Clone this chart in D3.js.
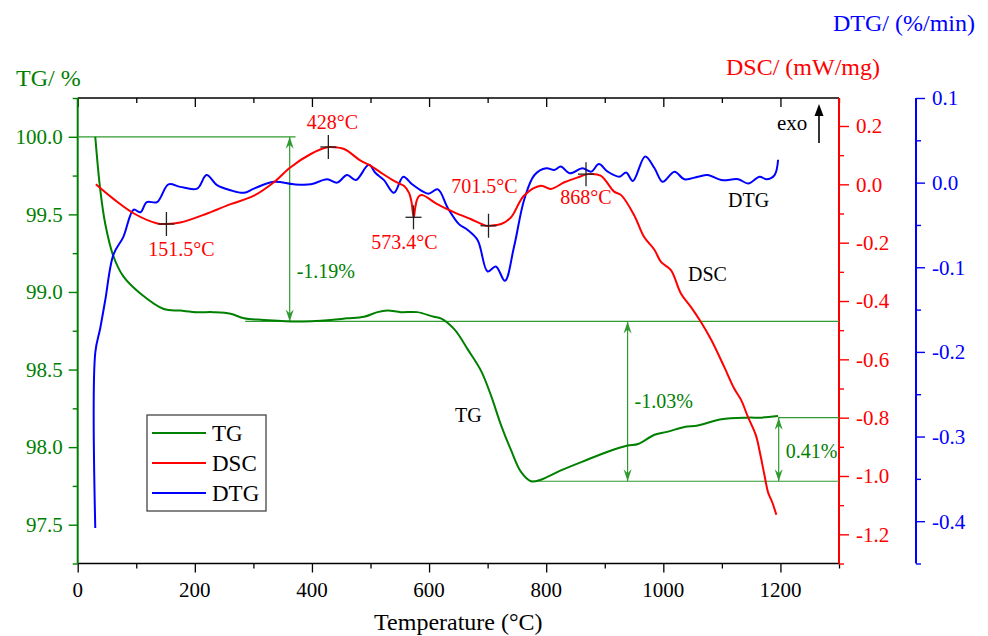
<!DOCTYPE html>
<html>
<head>
<meta charset="utf-8">
<script src="https://cdn.jsdelivr.net/npm/d3@7"></script>
<style>
  html, body { margin: 0; padding: 0; background: #fff; }
</style>
</head>
<body>
<svg id="chart" width="988" height="636"></svg>
<script>
// ---- Thermal analysis data (temperature in °C) ----
const tgTemp  = [30, 38.5, 47, 61, 78, 107, 147, 175, 204, 232, 261, 284, 318, 375, 432, 460, 489, 512, 529, 552, 580, 608, 620, 643, 666, 689, 706, 723, 740, 757, 774, 791, 825, 871, 905, 939, 957, 985, 1008, 1036, 1059, 1099, 1145, 1167, 1196];
const tgValue = [100.00, 99.66, 99.44, 99.23, 99.10, 98.99, 98.89, 98.88, 98.87, 98.87, 98.86, 98.83, 98.82, 98.81, 98.82, 98.83, 98.84, 98.87, 98.88, 98.87, 98.87, 98.84, 98.83, 98.76, 98.63, 98.49, 98.33, 98.14, 97.98, 97.84, 97.78, 97.79, 97.85, 97.92, 97.97, 98.01, 98.02, 98.08, 98.10, 98.13, 98.14, 98.18, 98.19, 98.19, 98.20];

const dscTemp  = [31, 61, 96, 136, 152, 175, 221, 261, 301, 335, 363, 398, 426, 431, 455, 483, 500, 517, 535, 552, 557, 566, 570, 572.5, 574, 576, 579, 583, 589, 614, 643, 671, 697, 702, 723, 740, 762, 791, 808, 831, 854, 872, 893, 916, 928, 950, 967, 985, 996, 1013, 1030, 1047, 1064, 1082, 1104, 1121, 1133, 1144, 1158, 1166, 1173, 1179, 1186, 1193];
const dscValue = [0.00, -0.05, -0.10, -0.134, -0.136, -0.131, -0.10, -0.068, -0.039, 0.007, 0.058, 0.104, 0.127, 0.128, 0.121, 0.081, 0.064, 0.041, 0.018, 0.000, -0.005, -0.030, -0.060, -0.100, -0.113, -0.085, -0.055, -0.040, -0.037, -0.068, -0.096, -0.119, -0.142, -0.142, -0.136, -0.113, -0.039, -0.005, -0.016, 0.007, 0.024, 0.035, 0.030, -0.025, -0.037, -0.105, -0.180, -0.225, -0.266, -0.294, -0.374, -0.420, -0.471, -0.534, -0.626, -0.70, -0.74, -0.795, -0.86, -0.93, -1.00, -1.057, -1.09, -1.133];

const dtgTemp  = [30, 30, 38.5, 47, 61, 78, 95.5, 107, 118, 135.5, 155, 175, 204, 220, 238, 261, 284, 301, 335, 369, 398, 426, 443, 460, 475, 497, 509, 523, 540, 556, 571, 586, 599, 615, 632, 651, 666, 683, 700, 714, 729.5, 745, 762.5, 780, 800, 814, 825, 840, 862, 877, 890, 905, 925, 936.5, 948, 969, 985, 999, 1019, 1036, 1059, 1076, 1099, 1128, 1145, 1164.5, 1176, 1190, 1196];
const dtgValue = [-0.408, -0.201, -0.172, -0.139, -0.085, -0.064, -0.032, -0.035, -0.023, -0.023, -0.002, -0.005, -0.007, 0.009, -0.003, -0.009, -0.012, -0.007, 0.001, -0.002, -0.002, 0.004, 0.000, 0.009, 0.003, 0.021, 0.011, 0.003, -0.012, 0.007, -0.002, -0.009, -0.013, -0.008, -0.030, -0.049, -0.056, -0.068, -0.105, -0.099, -0.116, -0.076, -0.020, 0.009, 0.017, 0.015, 0.019, 0.011, 0.017, 0.013, 0.022, 0.013, 0.007, 0.012, 0.002, 0.031, 0.017, 0.001, 0.013, 0.004, 0.007, 0.009, 0.003, 0.004, -0.001, 0.007, 0.004, 0.009, 0.027];

// DSC peak temperatures and their heat flow
const peakTemp = [151.5, 428, 573.4, 701.5, 868];
const peakDSC  = [-0.136, 0.128, -0.113, -0.142, 0.035];

// Mass-change steps of the TG curve (starting from 100 %)
const tgStart = 100.00;
const tgSteps = [-1.19, -1.03, 0.41];

// Axis ticks
const tempTicks = [0, 200, 400, 600, 800, 1000, 1200];
const tgTicks   = [97.5, 98.0, 98.5, 99.0, 99.5, 100.0];
const dscTicks  = [-1.2, -1.0, -0.8, -0.6, -0.4, -0.2, 0.0, 0.2];
const dtgTicks  = [-0.4, -0.3, -0.2, -0.1, 0.0, 0.1];

// ---- Layout ----
const FONT = "'Liberation Serif', 'Times New Roman', Times, serif";
const GREEN = "#008000", RED = "#ff0000", BLUE = "#0000ff", GUIDE = "#2f9a2f";
const L = 77.7, R = 839, T = 98, B = 563.5, BLUE_X = 916;

const svg = d3.select("#chart");
const x    = d3.scaleLinear([0, 1300], [L, R]);
const yTG  = d3.scaleLinear([97.25, 100.25], [B, T]);
const yDSC = d3.scaleLinear([-1.3, 0.296], [B, T]);
const yDTG = d3.scaleLinear([-0.45, 0.1], [B, T]);

const tickFont = "21px";

// bottom axis
const gx = svg.append("g").attr("transform", `translate(0,${B})`);
gx.call(d3.axisBottom(x).tickValues(d3.range(0, 1301, 100)).tickSize(5).tickFormat(""));
gx.call(g => g.selectAll(".tick").filter(d => d % 200 === 0).select("line").attr("y2", 9));
gx.select(".domain").remove();
gx.append("line").attr("x1", L).attr("x2", R).attr("stroke", "#000").attr("stroke-width", 1.6);
gx.selectAll(".tick line").attr("stroke", "#000").attr("stroke-width", 1.3);
gx.selectAll(".lbl").data(tempTicks).join("text")
  .attr("x", d => x(d)).attr("y", 33).attr("text-anchor", "middle")
  .attr("font-size", tickFont).attr("fill", "#000").text(d => d);

// top border with inward ticks
const gt = svg.append("g").attr("transform", `translate(0,${T})`);
gt.call(d3.axisBottom(x).tickValues(d3.range(0, 1301, 100)).tickSize(5).tickFormat(""));
gt.call(g => g.selectAll(".tick").filter(d => d % 200 === 0).select("line").attr("y2", 9));
gt.select(".domain").remove();
gt.append("line").attr("x1", L).attr("x2", R).attr("stroke", "#000").attr("stroke-width", 1.6);
gt.selectAll(".tick line").attr("stroke", "#000").attr("stroke-width", 1.3);

// left TG axis
const gl = svg.append("g").attr("transform", `translate(${L},0)`);
gl.call(d3.axisLeft(yTG).tickValues(d3.range(97.25, 100.26, 0.25)).tickSize(5).tickFormat(""));
gl.call(g => g.selectAll(".tick").filter(d => Math.abs(d * 2 - Math.round(d * 2)) < 1e-6).select("line").attr("x2", -9));
gl.select(".domain").remove();
gl.append("line").attr("y1", T).attr("y2", B).attr("stroke", GREEN).attr("stroke-width", 2);
gl.selectAll(".tick line").attr("stroke", GREEN).attr("stroke-width", 1.4);
gl.selectAll(".lbl").data(tgTicks).join("text")
  .attr("x", -15).attr("y", d => yTG(d)).attr("dy", "0.35em").attr("text-anchor", "end")
  .attr("font-size", tickFont).attr("fill", GREEN).text(d => d.toFixed(1));

// right DSC axis
const gr = svg.append("g").attr("transform", `translate(${R},0)`);
gr.call(d3.axisRight(yDSC).tickValues(d3.range(-1.3, 0.25, 0.1)).tickSize(5).tickFormat(""));
gr.call(g => g.selectAll(".tick").filter(d => Math.abs(d * 5 - Math.round(d * 5)) < 1e-6).select("line").attr("x2", 10));
gr.select(".domain").remove();
gr.append("line").attr("y1", T).attr("y2", B).attr("stroke", RED).attr("stroke-width", 2);
gr.selectAll(".tick line").attr("stroke", RED).attr("stroke-width", 1.4);
gr.selectAll(".lbl").data(dscTicks).join("text")
  .attr("x", 17).attr("y", d => yDSC(d)).attr("dy", "0.35em").attr("text-anchor", "start")
  .attr("font-size", tickFont).attr("fill", RED).text(d => d.toFixed(1));

// second right DTG axis
const gb = svg.append("g").attr("transform", `translate(${BLUE_X},0)`);
gb.call(d3.axisRight(yDTG).tickValues(d3.range(-0.45, 0.101, 0.05)).tickSize(5).tickFormat(""));
gb.call(g => g.selectAll(".tick").filter(d => Math.abs(d * 10 - Math.round(d * 10)) < 1e-6).select("line").attr("x2", 9));
gb.select(".domain").remove();
gb.append("line").attr("y1", T).attr("y2", B).attr("stroke", BLUE).attr("stroke-width", 2);
gb.selectAll(".tick line").attr("stroke", BLUE).attr("stroke-width", 1.4);
gb.selectAll(".lbl").data(dtgTicks).join("text")
  .attr("x", 16).attr("y", d => yDTG(d)).attr("dy", "0.35em").attr("text-anchor", "start")
  .attr("font-size", tickFont).attr("fill", BLUE).text(d => d.toFixed(1));

// axis titles
svg.append("text").attr("x", 16).attr("y", 86).attr("font-size", "24px").attr("fill", GREEN).text("TG/ %");
svg.append("text").attr("x", 880).attr("y", 75).attr("text-anchor", "end").attr("font-size", "24px").attr("fill", RED).text("DSC/ (mW/mg)");
svg.append("text").attr("x", 975).attr("y", 31).attr("text-anchor", "end").attr("font-size", "24px").attr("fill", BLUE).text("DTG/ (%/min)");
svg.append("text").attr("x", (L + R) / 2).attr("y", 630).attr("text-anchor", "middle").attr("font-size", "24px").attr("fill", "#000").text("Temperature (°C)");

// ---- TG step guides ----
const levels = [tgStart];
tgSteps.forEach(s => levels.push(+(levels[levels.length - 1] + s).toFixed(2)));
// guide line extents (temperature) and arrow temperatures
const guideFrom = [0, 286, 772, 1196];
const arrowTemp = [362, 939, 1197];
const labelShift = [42, 0, 2];   // vertical offset of step labels from arrow midpoint (px)

const guides = svg.append("g").attr("stroke", GUIDE).attr("stroke-width", 1.2);
levels.forEach((lv, i) => {
  const x2 = i === 0 ? x(372) : R;
  guides.append("line").attr("x1", x(guideFrom[i])).attr("x2", x2)
    .attr("y1", yTG(lv)).attr("y2", yTG(lv));
});

function arrowHead(g, px, py, dir) {
  // dir = -1 pointing up, +1 pointing down
  const p = d3.path();
  p.moveTo(px, py);
  p.lineTo(px - 4, py - dir * 12);
  p.lineTo(px, py - dir * 8);
  p.lineTo(px + 4, py - dir * 12);
  p.closePath();
  g.append("path").attr("d", p.toString()).attr("fill", GUIDE).attr("stroke", "none");
}

const arrows = svg.append("g");
tgSteps.forEach((s, i) => {
  const ax = x(arrowTemp[i]);
  const yA = yTG(levels[i]), yB = yTG(levels[i + 1]);
  arrows.append("line").attr("x1", ax).attr("x2", ax).attr("y1", yA).attr("y2", yB)
    .attr("stroke", GUIDE).attr("stroke-width", 1.2);
  const top = Math.min(yA, yB), bot = Math.max(yA, yB);
  arrowHead(arrows, ax, top, -1);
  arrowHead(arrows, ax, bot, 1);
  arrows.append("text").attr("x", ax + 7).attr("y", (top + bot) / 2 + labelShift[i]).attr("dy", "0.35em")
    .attr("font-size", "20px").attr("fill", GREEN).text(s.toFixed(2) + "%");
});

// ---- Curves ----
const curve = d3.curveCatmullRom.alpha(0.5);
const plot = svg.append("g");

plot.append("path").datum(d3.zip(tgTemp, tgValue))
  .attr("d", d3.line().x(d => x(d[0])).y(d => yTG(d[1])).curve(curve))
  .attr("fill", "none").attr("stroke", GREEN).attr("stroke-width", 2);

plot.append("path").datum(d3.zip(dtgTemp, dtgValue))
  .attr("d", d3.line().x(d => x(d[0])).y(d => yDTG(d[1])).curve(curve))
  .attr("fill", "none").attr("stroke", BLUE).attr("stroke-width", 2);

plot.append("path").datum(d3.zip(dscTemp, dscValue))
  .attr("d", d3.line().x(d => x(d[0])).y(d => yDSC(d[1])).curve(curve))
  .attr("fill", "none").attr("stroke", RED).attr("stroke-width", 2);

// ---- DSC peak markers ----
const peakLabelDx = [15, 4, -9, -4, 0];
const peakLabelDy = [32, -18, 32, -33, 30];
const marks = svg.append("g");
peakTemp.forEach((t, i) => {
  const px = x(t), py = yDSC(peakDSC[i]);
  marks.append("line").attr("x1", px - 8).attr("x2", px + 8).attr("y1", py).attr("y2", py)
    .attr("stroke", "#222").attr("stroke-width", 1.3);
  marks.append("line").attr("x1", px).attr("x2", px).attr("y1", py - 12).attr("y2", py + 12)
    .attr("stroke", "#222").attr("stroke-width", 1.3);
  marks.append("text").attr("x", px + peakLabelDx[i]).attr("y", py + peakLabelDy[i])
    .attr("text-anchor", "middle").attr("font-size", "20px").attr("fill", RED).text(t + "°C");
});

// ---- curve labels ----
svg.append("text").attr("x", 728).attr("y", 207).attr("font-size", "20px").text("DTG");
svg.append("text").attr("x", 688).attr("y", 281).attr("font-size", "20px").text("DSC");
svg.append("text").attr("x", 455).attr("y", 422).attr("font-size", "20px").text("TG");

// exo marker
svg.append("text").attr("x", 777).attr("y", 130).attr("font-size", "21px").text("exo");
svg.append("line").attr("x1", 819).attr("x2", 819).attr("y1", 143).attr("y2", 112)
  .attr("stroke", "#000").attr("stroke-width", 1.6);
svg.append("path").attr("d", "M819,104 L814.5,116 L823.5,116 Z").attr("fill", "#000");

// ---- Legend ----
const legendNames = ["TG", "DSC", "DTG"];
const legendColors = [GREEN, RED, BLUE];
const lg = svg.append("g");
lg.append("rect").attr("x", 147).attr("y", 415).attr("width", 119).attr("height", 96)
  .attr("fill", "#fff").attr("stroke", "#444").attr("stroke-width", 1.3);
legendNames.forEach((n, i) => {
  const ly = 433 + i * 30;
  lg.append("line").attr("x1", 152).attr("x2", 206).attr("y1", ly).attr("y2", ly)
    .attr("stroke", legendColors[i]).attr("stroke-width", 2);
  lg.append("text").attr("x", 212).attr("y", ly).attr("dy", "0.35em")
    .attr("font-size", "23px").attr("fill", "#000").text(n);
});

// serif typeface for every label
svg.selectAll("g").attr("font-family", null);
svg.selectAll("text").attr("font-family", FONT);
</script>
</body>
</html>
